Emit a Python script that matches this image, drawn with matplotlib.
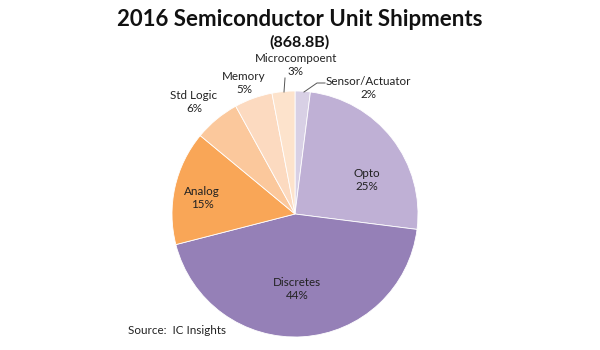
import matplotlib
matplotlib.use("Agg")
import matplotlib.pyplot as plt

categories = ["Sensor/Actuator", "Opto", "Discretes", "Analog", "Std Logic", "Memory", "Microcompoent"]
values = [2, 25, 44, 15, 6, 5, 3]
colors = ["#d8d0e5", "#bfb0d5", "#9580b7", "#f9a657", "#fbc89c", "#fcdac0", "#fde3cc"]

plt.rcParams['font.family'] = ['Lato', 'DejaVu Sans']

fig = plt.figure(figsize=(6, 3.5), dpi=100)
ax = fig.add_axes([0, 0, 1, 1])
cx, cy, r = 295, 350 - 214, 123
ax.pie(values, colors=colors, startangle=90, counterclock=False, center=(cx, cy), radius=r,
       wedgeprops=dict(edgecolor="white", linewidth=0.6), frame=True)
ax.set_xlim(0, 600)
ax.set_ylim(0, 350)
ax.set_aspect("equal")
ax.axis("off")

# label positions (pixels from top-left)
label_pos = {
    "Sensor/Actuator": (368, 88),
    "Opto": (367, 180),
    "Discretes": (297, 289),
    "Analog": (202, 198),
    "Std Logic": (194, 102),
    "Memory": (244, 83),
    "Microcompoent": (296, 65),
}
for cat, val in zip(categories, values):
    x, y = label_pos[cat]
    ax.text(x, 350 - y, f"{cat}\n{val}%", ha="center", va="center", fontsize=8.4,
            color="#222222", linespacing=1.25)

# leader lines
ax.plot([285, 284], [350 - 78, 350 - 92], color="#555555", lw=0.7)
ax.plot([325, 317, 304], [350 - 83, 350 - 83, 350 - 92], color="#555555", lw=0.7)

fig.text(0.5, 1 - 20 / 350, "2016 Semiconductor Unit Shipments", ha="center", va="center",
         fontsize=16, fontweight="bold", color="#111111")
fig.text(0.5, 1 - 42 / 350, "(868.8B)", ha="center", va="center",
         fontsize=11.5, fontweight="bold", color="#111111")
fig.text(128 / 600, 1 - 331 / 350, "Source:  IC Insights", ha="left", va="center",
         fontsize=8.4, color="#222222")

fig.savefig("out.png", dpi=100)
